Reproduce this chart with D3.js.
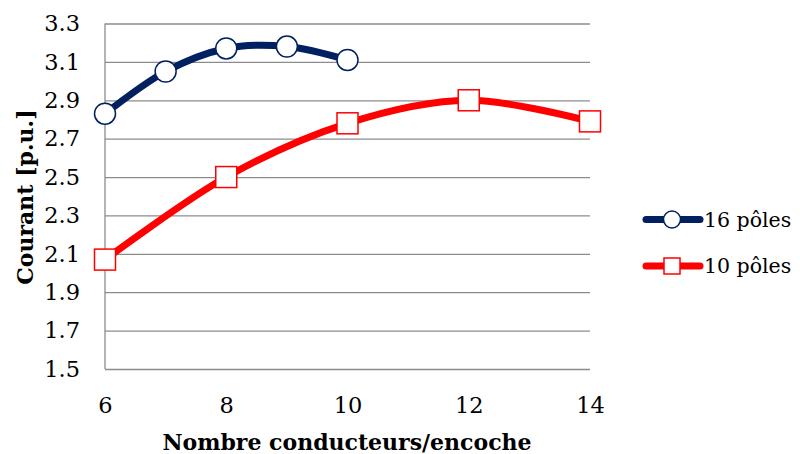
<!DOCTYPE html>
<html>
<head>
<meta charset="utf-8">
<script src="https://cdn.jsdelivr.net/npm/d3@7"></script>
<style>
  html, body { margin: 0; padding: 0; background: #fff; }
  svg text { font-family: "DejaVu Serif", "Liberation Serif", serif; fill: #000; }
</style>
</head>
<body>
<svg id="chart" width="800" height="454"></svg>
<script>
// Courant en fonction du nombre de conducteurs par encoche
const conducteurs16 = [6, 7, 8, 9, 10];
const courant16 = [2.83, 3.05, 3.17, 3.18, 3.11];
const conducteurs10 = [6, 8, 10, 12, 14];
const courant10 = [2.07, 2.50, 2.78, 2.90, 2.79];
const xTicks = [6, 8, 10, 12, 14];
const yTicks = [1.5, 1.7, 1.9, 2.1, 2.3, 2.5, 2.7, 2.9, 3.1, 3.3];
const seriesNames = ["16 pôles", "10 pôles"];

const svg = d3.select("#chart");
const plot = { left: 105, right: 590, top: 23.5, bottom: 369 };
const tickFont = 22.5;

const x = d3.scaleLinear().domain([6, 14]).range([plot.left, plot.right]);
const y = d3.scaleLinear().domain([1.5, 3.3]).range([plot.bottom, plot.top]);

// horizontal gridlines
svg.append("g")
  .attr("transform", `translate(${plot.left},0)`)
  .call(d3.axisLeft(y).tickValues(yTicks).tickSize(-(plot.right - plot.left)).tickFormat(""))
  .call(g => g.select(".domain").remove())
  .call(g => g.selectAll("line").attr("stroke", "#8c8c8c").attr("stroke-width", 1.3));

// vertical axis line
svg.append("line")
  .attr("x1", plot.left).attr("x2", plot.left).attr("y1", plot.top).attr("y2", plot.bottom)
  .attr("stroke", "#8c8c8c").attr("stroke-width", 1.3);

// y tick labels
svg.append("g")
  .attr("transform", `translate(${plot.left},0)`)
  .call(d3.axisLeft(y).tickValues(yTicks).tickSize(0).tickPadding(25).tickFormat(d3.format(".1f")))
  .call(g => g.select(".domain").remove())
  .call(g => g.selectAll("text").attr("font-size", tickFont).attr("font-family", "DejaVu Serif"));

// x tick labels
svg.append("g")
  .attr("transform", `translate(0,${plot.bottom})`)
  .call(d3.axisBottom(x).tickValues(xTicks).tickSize(0).tickPadding(28).tickFormat(d3.format("d")))
  .call(g => g.select(".domain").remove())
  .call(g => g.selectAll("text").attr("font-size", tickFont).attr("font-family", "DejaVu Serif"));

// axis titles
svg.append("text")
  .attr("x", 347).attr("y", 450)
  .attr("text-anchor", "middle")
  .attr("font-size", 22).attr("font-weight", "bold")
  .text("Nombre conducteurs/encoche");

svg.append("text")
  .attr("transform", `translate(33,197) rotate(-90)`)
  .attr("text-anchor", "middle")
  .attr("font-size", 22).attr("font-weight", "bold")
  .text("Courant [p.u.]");

const line = d3.line()
  .x(d => x(d[0])).y(d => y(d[1]))
  .curve(d3.curveCardinal.tension(0));

const blue = "#002060", red = "#ff0000";
const data16 = conducteurs16.map((c, i) => [c, courant16[i]]);
const data10 = conducteurs10.map((c, i) => [c, courant10[i]]);

// 10 pôles series
svg.append("path").datum(data10)
  .attr("d", line).attr("fill", "none")
  .attr("stroke", red).attr("stroke-width", 7).attr("stroke-linejoin", "round");
svg.append("g").selectAll("rect").data(data10).join("rect")
  .attr("x", d => x(d[0]) - 10.5).attr("y", d => y(d[1]) - 10.5)
  .attr("width", 21).attr("height", 21)
  .attr("fill", "#fff").attr("stroke", red).attr("stroke-width", 1.5);

// 16 pôles series
svg.append("path").datum(data16)
  .attr("d", line).attr("fill", "none")
  .attr("stroke", blue).attr("stroke-width", 7).attr("stroke-linejoin", "round");
svg.append("g").selectAll("circle").data(data16).join("circle")
  .attr("cx", d => x(d[0])).attr("cy", d => y(d[1])).attr("r", 10.5)
  .attr("fill", "#fff").attr("stroke", blue).attr("stroke-width", 1.5);

// legend
const legend = svg.append("g");
const items = [
  { name: seriesNames[0], color: blue, shape: "circle", y: 219.5 },
  { name: seriesNames[1], color: red, shape: "rect", y: 266 }
];
items.forEach(it => {
  const g = legend.append("g").attr("transform", `translate(0,${it.y})`);
  g.append("line").attr("x1", 646).attr("x2", 700).attr("y1", 0).attr("y2", 0)
    .attr("stroke", it.color).attr("stroke-width", 7).attr("stroke-linecap", "round");
  if (it.shape === "circle") {
    g.append("circle").attr("cx", 672).attr("cy", 0).attr("r", 8.5)
      .attr("fill", "#fff").attr("stroke", it.color).attr("stroke-width", 1.5);
  } else {
    g.append("rect").attr("x", 664).attr("y", -8).attr("width", 16).attr("height", 16)
      .attr("fill", "#fff").attr("stroke", it.color).attr("stroke-width", 1.5);
  }
  g.append("text").attr("x", 704).attr("y", 0).attr("dy", "0.35em")
    .attr("font-size", 20.5).text(it.name);
});
</script>
</body>
</html>
